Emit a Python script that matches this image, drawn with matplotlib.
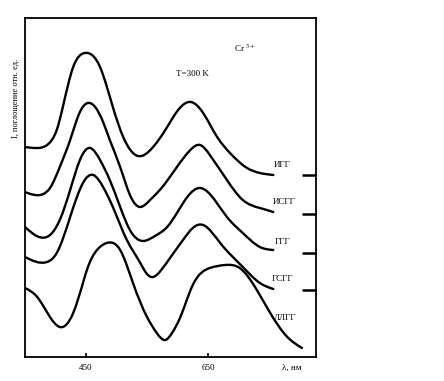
import numpy as np
import matplotlib
matplotlib.use("Agg")
import matplotlib.pyplot as plt
from matplotlib.path import Path
from matplotlib.patches import PathPatch

# spectres d'absorption Cr3+ (intensite en unites arbitraires)
nm_igg = [350, 371, 394, 402, 412, 429, 448, 473, 494, 511, 535, 560, 580, 601, 622, 642, 665, 686, 714, 735, 757]
i_igg = [210, 209, 217, 227, 250, 290, 304, 290, 250, 220, 201, 210, 227, 247, 255, 244, 220, 204, 189, 184, 182]

nm_isgg = [350, 380, 391, 407, 424, 440, 453, 465, 478, 489, 506, 522, 539, 555, 571, 599, 621, 637, 653, 681, 707, 735, 757]
i_isgg = [165, 163, 169, 190, 217, 245, 254, 250, 235, 217, 190, 162, 150, 157, 167, 190, 207, 212, 202, 177, 157, 149, 145]

nm_ggg = [350, 391, 407, 424, 440, 457, 473, 489, 506, 522, 543, 563, 583, 616, 637, 661, 681, 707, 735, 757]
i_ggg = [130, 122, 137, 167, 197, 209, 197, 177, 150, 127, 116, 121, 130, 160, 169, 157, 140, 124, 110, 107]

nm_gsgg = [350, 386, 402, 424, 445, 462, 478, 494, 517, 539, 550, 560, 572, 590, 609, 625, 642, 670, 707, 735, 757]
i_gsgg = [100, 95, 104, 140, 174, 182, 170, 150, 117, 94, 83, 80, 86, 101, 117, 129, 132, 114, 90, 74, 68]

nm_llgg = [350, 370, 391, 407, 429, 445, 452, 468, 484, 506, 527, 550, 566, 580, 591, 604, 625, 653, 678, 702, 730, 752, 780, 804]
i_llgg = [69, 60, 40, 30, 44, 74, 88, 107, 114, 107, 74, 40, 24, 17, 24, 39, 72, 89, 92, 89, 67, 44, 20, 9]

noms = ["ИГГ", "ИСГГ", "ГГГ", "ГСГГ", "ЛЛГГ"]
niveaux_base = [182, 143, 104, 67]   # petits traits sur l'axe de droite
x_ticks = [450, 650]

plt.rcParams['font.family'] = ['Liberation Serif', 'DejaVu Serif']
plt.rcParams['mathtext.fontset'] = 'stix'


def pentes_spline(x, y):
    # pentes d'une spline cubique naturelle (continuite C2)
    n = len(x)
    h = np.diff(x)
    d = np.diff(y) / h
    A = np.zeros((n, n))
    b = np.zeros(n)
    A[0, 0], A[0, 1], b[0] = 2, 1, 3 * d[0]
    A[-1, -2], A[-1, -1], b[-1] = 1, 2, 3 * d[-1]
    for i in range(1, n - 1):
        A[i, i - 1] = 1 / h[i - 1]
        A[i, i] = 2 * (1 / h[i - 1] + 1 / h[i])
        A[i, i + 1] = 1 / h[i]
        b[i] = 3 * (d[i - 1] / h[i - 1] + d[i] / h[i])
    return np.linalg.solve(A, b)


def courbe_lisse(ax, xs, ys, lw=1.7):
    # courbe lisse passant par les points lus (segments de Bezier)
    x = np.asarray(xs, dtype=float)
    y = np.asarray(ys, dtype=float)
    h = np.diff(x)
    m = pentes_spline(x, y)
    verts = [(x[0], y[0])]
    codes = [Path.MOVETO]
    for k in range(len(x) - 1):
        verts += [(x[k] + h[k] / 3, y[k] + m[k] * h[k] / 3),
                  (x[k + 1] - h[k] / 3, y[k + 1] - m[k + 1] * h[k] / 3),
                  (x[k + 1], y[k + 1])]
        codes += [Path.CURVE4] * 3
    patch = PathPatch(Path(verts, codes), facecolor="none", edgecolor="black",
                      lw=lw, capstyle="round", joinstyle="round")
    ax.add_patch(patch)


fig = plt.figure(figsize=(4.44, 3.81), dpi=100)
ax = fig.add_axes([25 / 444, 1 - 357 / 381, (316 - 25) / 444, (357 - 18) / 381])

for xs, ys in [(nm_igg, i_igg), (nm_isgg, i_isgg), (nm_ggg, i_ggg),
               (nm_gsgg, i_gsgg), (nm_llgg, i_llgg)]:
    courbe_lisse(ax, xs, ys)

ax.set_xlim(350, 827)
ax.set_ylim(0, 339)

for s in ax.spines.values():
    s.set_linewidth(1.3)

ax.set_xticks(x_ticks)
ax.set_xticklabels([str(v) for v in x_ticks], fontsize=6.5)
ax.tick_params(axis='x', direction='in', length=3, width=1.2, pad=5)
ax.set_yticks(niveaux_base)
ax.tick_params(axis='y', left=False, right=True, labelleft=False, labelright=False,
               direction='in', length=10, width=1.8)

# etiquettes des courbes
pos_noms = [(771, 192), (775, 155), (773, 115), (773, 78), (776, 39)]
for nom, (xp, yp) in zip(noms, pos_noms):
    ax.text(xp, yp, nom, fontsize=6.5, ha='center', va='center')

ax.text(624, 283, "T=300 K", fontsize=6.5, ha='center', va='center')
ax.text(711, 309, "Cr $^{3+}$", fontsize=6.5, ha='center', va='center')
ax.text(788, -0.033, "λ, нм", fontsize=6.5, ha='center', va='center',
        transform=ax.get_xaxis_transform())
fig.text(16 / 444, 1 - 98 / 381, "I, поглощение отн. ед.", fontsize=6,
         rotation=90, ha='center', va='center')

fig.savefig("out.png", dpi=100)
